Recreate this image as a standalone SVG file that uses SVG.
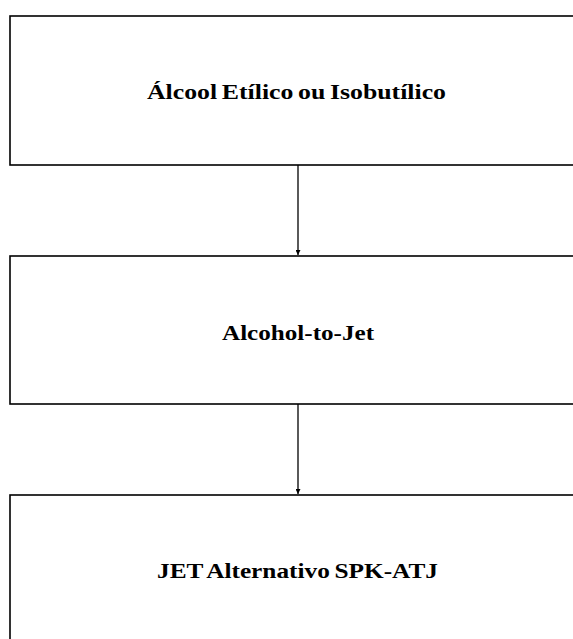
<svg xmlns="http://www.w3.org/2000/svg" width="573" height="639" viewBox="0 0 573 639">
  <style>
    .box { fill: #ffffff; stroke: #000000; stroke-width: 1.6; }
    .label { font-family: "Liberation Serif", "Times New Roman", serif; font-weight: bold; font-size: 22px; fill: #000000; text-anchor: middle; word-spacing: -1.5px; }
    .conn { stroke: #000000; stroke-width: 1.3; fill: none; }
  </style>
  <defs>
    <marker id="arrow" viewBox="0 0 8 8" refX="8" refY="4" markerWidth="5" markerHeight="5" markerUnits="userSpaceOnUse" orient="auto">
      <path d="M0,0 L8,4 L0,8 Z" fill="#000000"/>
    </marker>
  </defs>
  <rect width="573" height="639" fill="#ffffff"/>
  <g id="node-alcool">
    <rect class="box" x="10" y="16" width="600" height="149"/>
    <text class="label" x="296.5" y="99" textLength="299" lengthAdjust="spacingAndGlyphs">Álcool Etílico ou Isobutílico</text>
  </g>
  <g id="node-atj">
    <rect class="box" x="10" y="256" width="600" height="148"/>
    <text class="label" x="298" y="340" textLength="152" lengthAdjust="spacingAndGlyphs">Alcohol-to-Jet</text>
  </g>
  <g id="node-jet">
    <rect class="box" x="10" y="495" width="600" height="200"/>
    <text class="label" x="297.5" y="578" textLength="281" lengthAdjust="spacingAndGlyphs">JET Alternativo SPK-ATJ</text>
  </g>
  <g id="connectors">
    <line class="conn" x1="298" y1="165" x2="298" y2="255" marker-end="url(#arrow)"/>
    <line class="conn" x1="298" y1="404" x2="298" y2="494" marker-end="url(#arrow)"/>
  </g>
</svg>
